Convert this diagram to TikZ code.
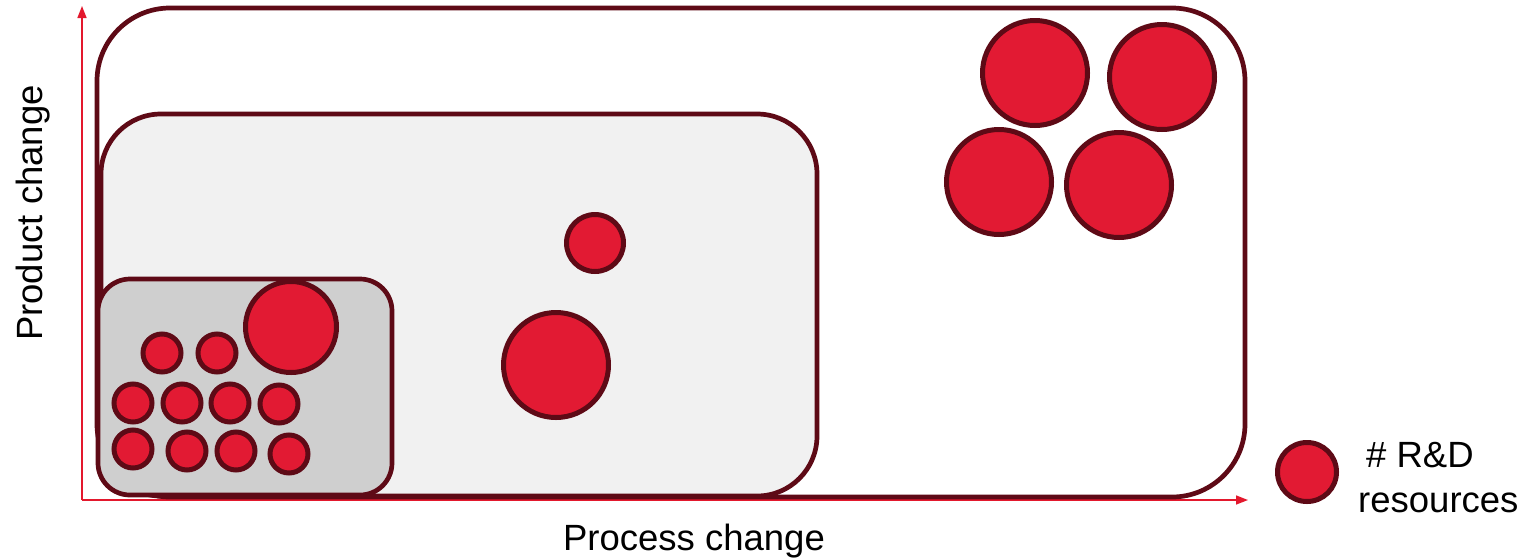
\documentclass[tikz,border=0pt]{standalone}
\usepackage{fontspec}
\setmainfont{Liberation Sans}
\usetikzlibrary{arrows.meta}
\definecolor{resred}{HTML}{E21A33}
\definecolor{darkmaroon}{HTML}{5E0A16}
\definecolor{axisred}{HTML}{E3182D}
\definecolor{lightfill}{HTML}{F1F1F1}
\definecolor{midfill}{HTML}{CFCFCF}
\tikzset{
  res/.style={circle, draw=darkmaroon, fill=resred, line width=5pt, inner sep=0pt},
  zone/.style={draw=darkmaroon, line width=4.7pt, inner sep=0pt},
  axis/.style={draw=axisred, line width=1.5pt, -{Triangle[length=12pt,width=9pt]}},
  lbl/.style={font=\fontsize{36.5}{38}\selectfont, inner sep=0pt, text=black}
}
\begin{document}
\begin{tikzpicture}[x=1pt,y=-1pt]
\useasboundingbox (0,0) rectangle (1537,558);
% axes
\coordinate (o) at (82,500);
\coordinate (ytop) at (82,6);
\coordinate (xend) at (1248,500);
\draw[axis] (o) -- (ytop);
\draw[axis] (o) -- (xend);
% zones
\node[zone, fill=white, rounded corners=73pt, minimum width=1148pt, minimum height=489pt] (outer) at (671,252.5) {};
\node[zone, fill=lightfill, rounded corners=60pt, minimum width=716pt, minimum height=382pt] (middle) at (459,305) {};
\node[zone, fill=midfill, rounded corners=32pt, minimum width=294pt, minimum height=216pt] (inner) at (245,387) {};
% large resources
\node[res, minimum size=105pt] (a1) at (1035,73) {};
\node[res, minimum size=105pt] (a2) at (1162,77) {};
\node[res, minimum size=105pt] (a3) at (999,182) {};
\node[res, minimum size=105pt] (a4) at (1119,185) {};
% middle zone
\node[res, minimum size=57pt] (b1) at (595,243) {};
\node[res, minimum size=105pt] (b2) at (556,365) {};
% inner zone
\node[res, minimum size=91pt] (c0) at (291,327) {};
\node[res, minimum size=38pt] (c1) at (162,353) {};
\node[res, minimum size=38pt] (c2) at (217,353) {};
\node[res, minimum size=38pt] (c3) at (133,403) {};
\node[res, minimum size=38pt] (c4) at (182,403) {};
\node[res, minimum size=38pt] (c5) at (230,403) {};
\node[res, minimum size=38pt] (c6) at (279,404) {};
\node[res, minimum size=38pt] (c7) at (133,449) {};
\node[res, minimum size=38pt] (c8) at (187,451) {};
\node[res, minimum size=38pt] (c9) at (236,451) {};
\node[res, minimum size=38pt] (c10) at (289,454) {};
% legend
\node[res, minimum size=59pt] (leg) at (1307,472) {};
\node[lbl, anchor=base west] (legt1) at (1366,467) {\# R\&D};
\node[lbl, anchor=base west] (legt2) at (1358,512) {resources};
% axis labels
\node[lbl, anchor=base] (xl) at (694,550) {Process change};
\node[lbl, anchor=base, rotate=90] (yl) at (42,213) {Product change};
\end{tikzpicture}
\end{document}
